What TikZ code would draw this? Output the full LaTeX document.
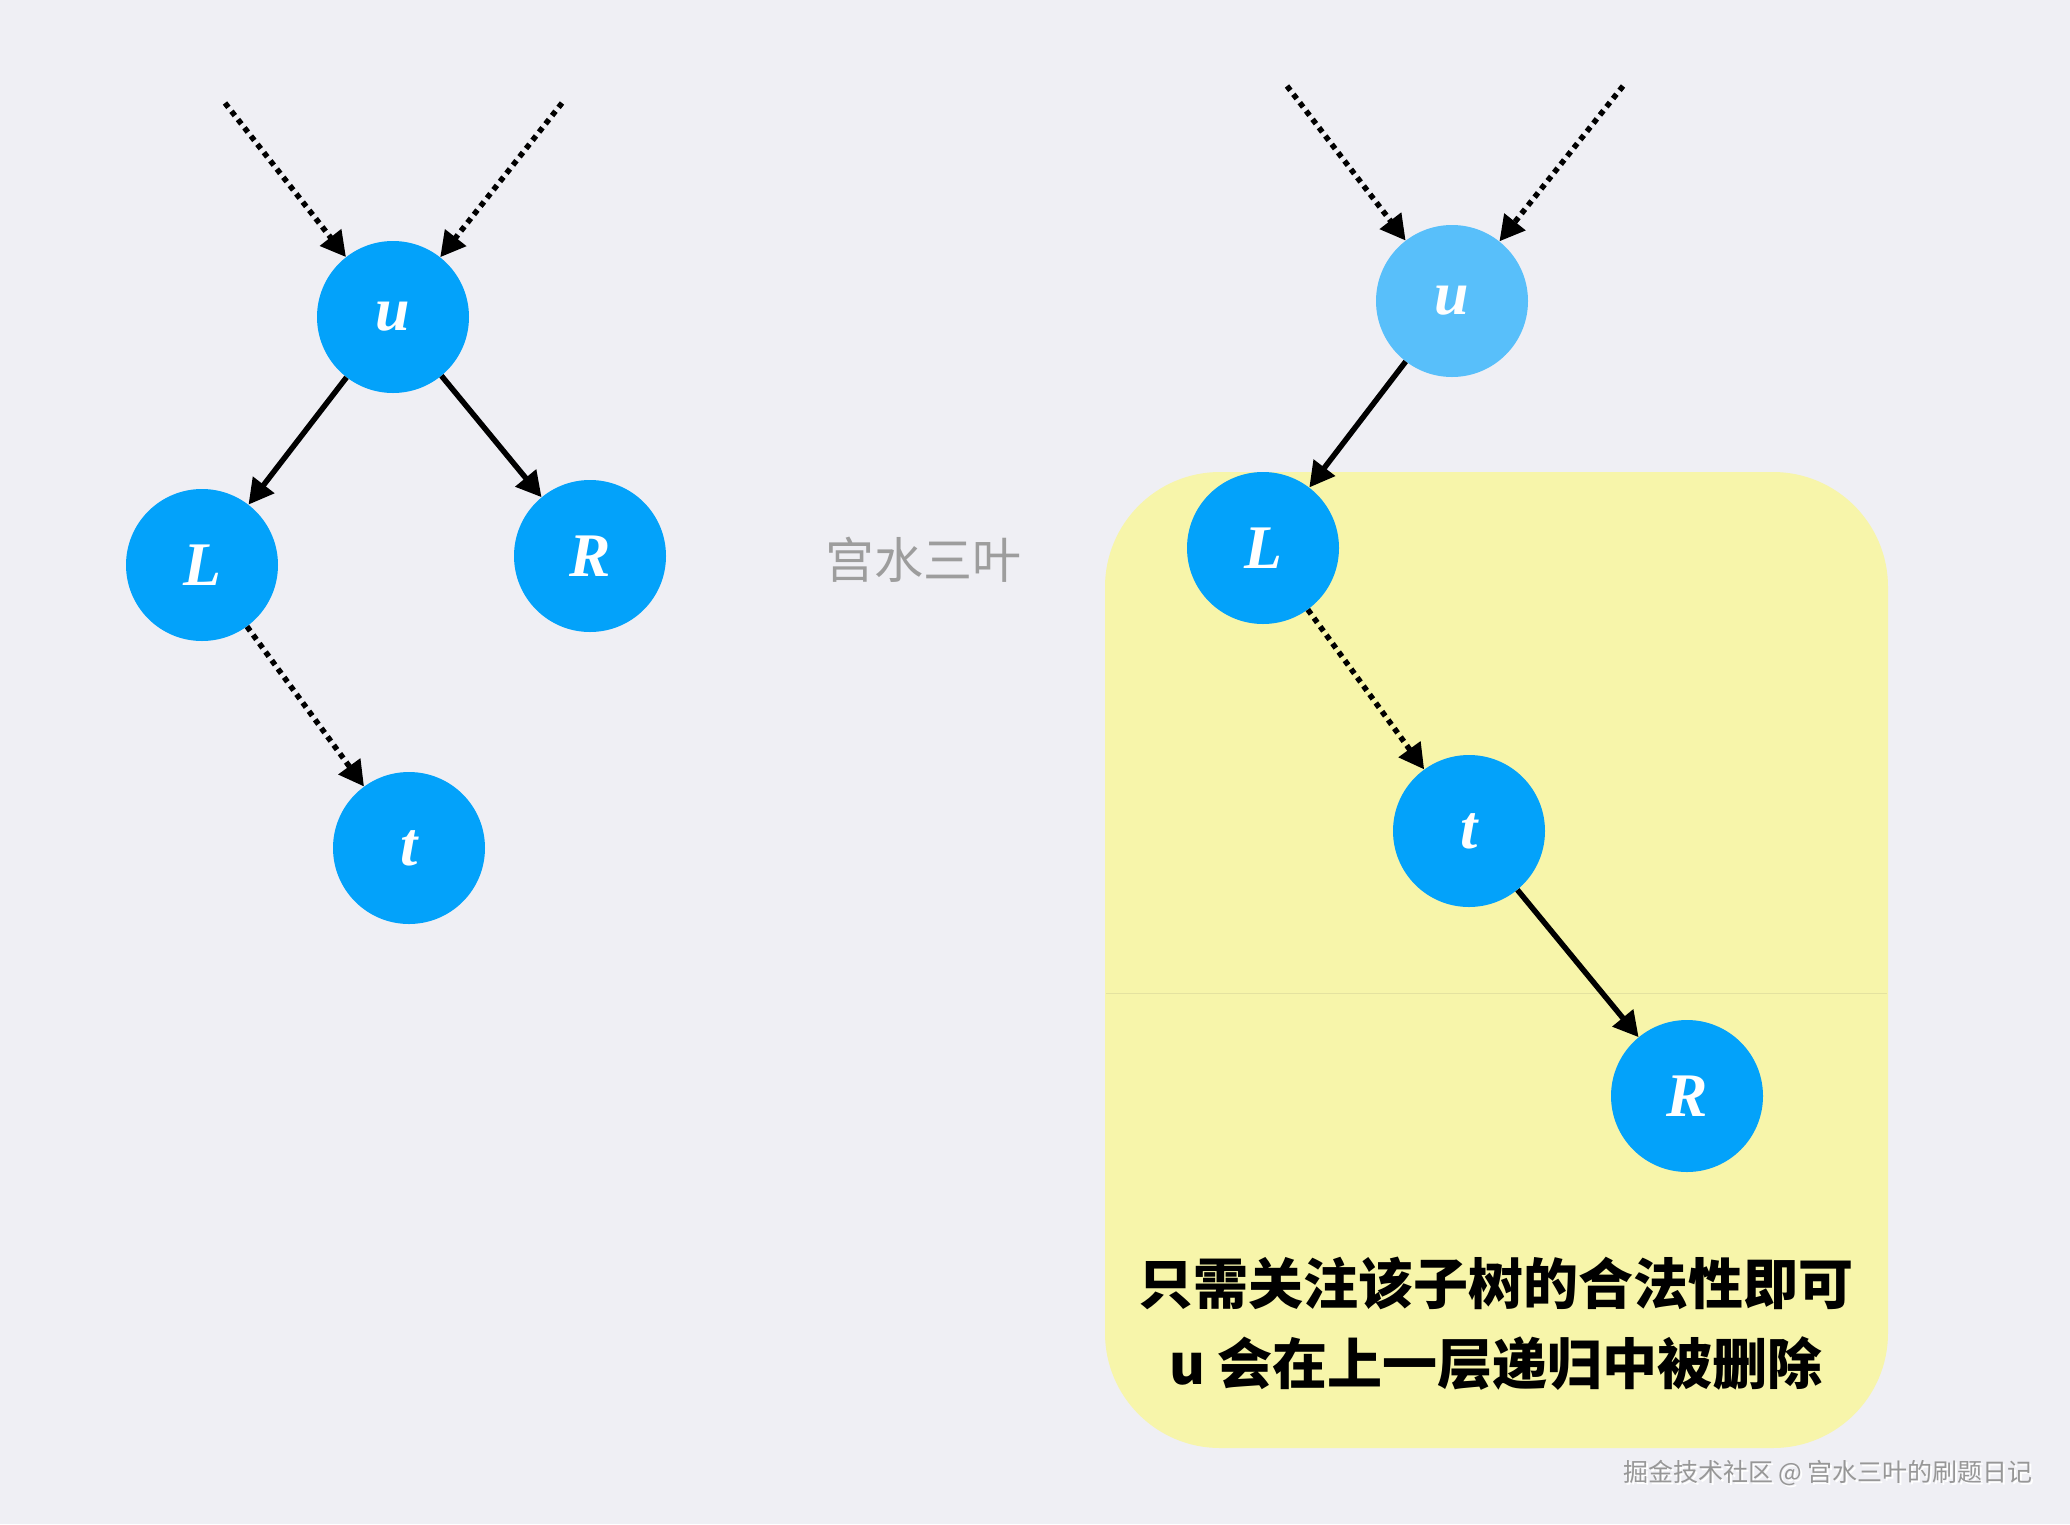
\documentclass[tikz,border=0pt]{standalone}
\usepackage{fontspec}
\setmainfont{Liberation Serif}
\newfontfamily\cjk{Noto Sans CJK SC}
\usetikzlibrary{arrows.meta}
\definecolor{bg}{HTML}{EFEFF4}
\definecolor{nodeblue}{HTML}{03A2FA}
\definecolor{lightblue}{HTML}{58BFFA}
\definecolor{boxyellow}{HTML}{F7F5AA}
\definecolor{seamline}{HTML}{E4E2A0}
\definecolor{wmgray}{HTML}{8C8C8C}
\tikzset{
  treenode/.style={circle, fill=nodeblue, minimum size=152pt, inner sep=0pt,
    text=white, font=\fontsize{62}{64}\selectfont\bfseries\itshape},
  solidedge/.style={line width=5.5pt, -{Triangle[length=25pt,width=26pt]}},
  dotedge/.style={line width=5.5pt, dash pattern=on 5.5pt off 5pt,
    -{Triangle[length=25pt,width=26pt]}},
}
\begin{document}
\begin{tikzpicture}[x=1pt,y=-1pt]
\fill[bg] (0,0) rectangle (2070,1524);
\useasboundingbox (0,0) rectangle (2070,1524);
% yellow box
\fill[boxyellow, rounded corners=115pt] (1105,472) rectangle (1888,1448);
\draw[seamline, line width=1pt] (1106,993) -- (1887,993);

% left tree
\node[treenode] (u1) at (393,317) {u};
\node[treenode] (L1) at (202,565) {L};
\node[treenode] (R1) at (590,556) {R};
\node[treenode] (t1) at (409,848) {t};
\coordinate (a1) at (225,103);
\coordinate (b1) at (562,103);
\draw[dotedge] (a1) -- (u1);
\draw[dotedge] (b1) -- (u1);
\draw[solidedge] (u1) -- (L1);
\draw[solidedge] (u1) -- (R1);
\draw[dotedge] (L1) -- (t1);

% watermark centre
\node[text=wmgray!85, font=\cjk\fontsize{49}{52}\selectfont] (wm) at (923,560) {宫水三叶};

% right tree
\node[treenode, fill=lightblue] (u2) at (1452,301) {u};
\node[treenode] (L2) at (1263,548) {L};
\node[treenode] (t2) at (1469,831) {t};
\node[treenode] (R2) at (1687,1096) {R};
\coordinate (a2) at (1287,86);
\coordinate (b2) at (1623,86);
\draw[dotedge] (a2) -- (u2);
\draw[dotedge] (b2) -- (u2);
\draw[solidedge] (u2) -- (L2);
\draw[dotedge] (L2) -- (t2);
\draw[solidedge] (t2) -- (R2);

% caption
\node[font=\cjk\bfseries\fontsize{55}{60}\selectfont] (cap1) at (1496,1283) {只需关注该子树的合法性即可};
\node[font=\cjk\bfseries\fontsize{55}{60}\selectfont] (cap2) at (1496,1364) {u 会在上一层递归中被删除};

% bottom watermark
\node[text=white, font=\cjk\fontsize{25}{28}\selectfont] (wmb2) at (1830,1475) {掘金技术社区 @ 宫水三叶的刷题日记};
\node[text=wmgray!90, font=\cjk\fontsize{25}{28}\selectfont] (wmb) at (1828,1473) {掘金技术社区 @ 宫水三叶的刷题日记};
\end{tikzpicture}
\end{document}
